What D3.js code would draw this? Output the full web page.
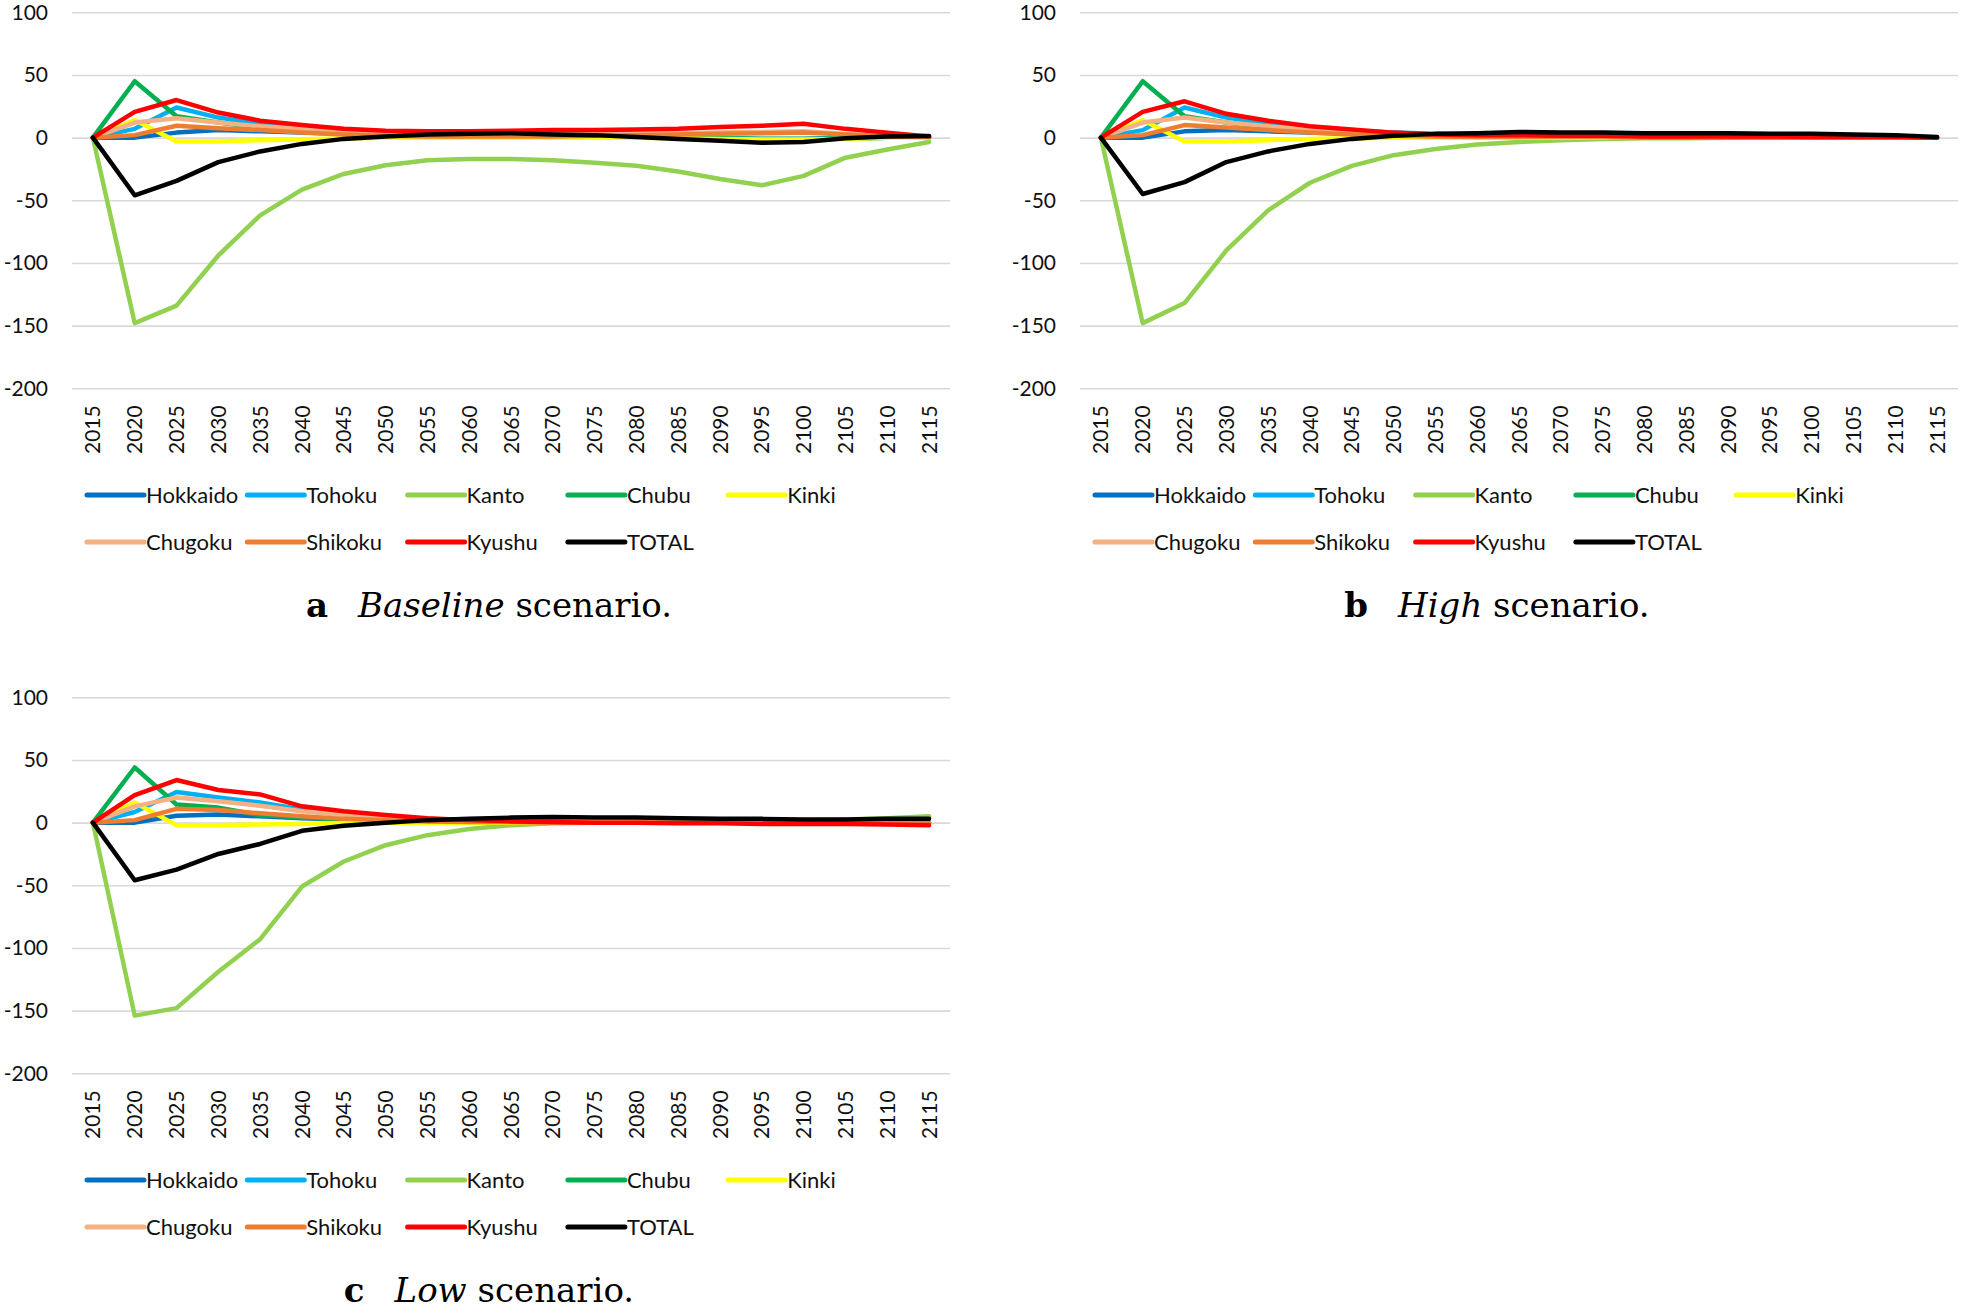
<!DOCTYPE html>
<html>
<head>
<meta charset="utf-8">
<script src="https://cdn.jsdelivr.net/npm/d3@7"></script>
<style>
  html, body { margin: 0; padding: 0; background: #fff; }
  svg { display: block; }
</style>
</head>
<body>
<svg id="chart" width="1961" height="1310"></svg>
<script>
// ---- data ----
const years = ["2015","2020","2025","2030","2035","2040","2045","2050","2055","2060","2065","2070","2075","2080","2085","2090","2095","2100","2105","2110","2115"];
const regions = ["Hokkaido","Tohoku","Kanto","Chubu","Kinki","Chugoku","Shikoku","Kyushu","TOTAL"];
const colors = ["#0070C0","#00B0F0","#92D050","#00B050","#FFFF00","#F4B183","#ED7D31","#FF0000","#000000"];
const yTicks = [-200,-150,-100,-50,0,50,100];

// Baseline scenario
const baseHokkaido = [0,0,4,6,5,4,3,2,1.5,1,1,0.5,0.5,0,0,-0.5,-1,-1,-0.5,0,0];
const baseTohoku   = [0,7,24,16,11,8.5,6,4,3,2.5,2,1.5,1,0.5,0,-0.5,-1,-1,-0.5,0,0];
const baseKanto    = [0,-148,-134,-94,-62,-41.5,-29,-22,-18,-17,-17,-18,-20,-22.5,-27,-33,-38,-30.5,-16,-9.5,-3.5];
const baseChubu    = [0,45,17,12,8,5,3,2,1,1,0.5,0.5,0,0,0,-0.5,-1,-1,-0.5,0,0];
const baseKinki    = [0,14,-3,-3,-2,-1.5,-0.5,0,0,0,0,0,0,0,-0.5,-1,-1.5,-1.5,-1,0,0];
const baseChugoku  = [0,12,15.5,12,9,7,5,4,3.5,3,3,3,3,3,3.5,4,4.5,5,3,1.5,0.5];
const baseShikoku  = [0,2,9.5,7.5,6,4,2.5,1.5,1,1,1,1,1.5,2,2.5,3,3.5,4,2.5,1,0.5];
const baseKyushu   = [0,20.5,30,20,13.5,10,7,5.5,5,5,5.5,6,6,6.5,7,8.5,9.5,11,7,4,1];
const baseTotal    = [0,-46,-34.5,-19.5,-11,-5,-1,1,2.5,3,3.5,2.5,2,0.5,-1,-2.5,-4,-3.5,-0.5,1,1.3];

// High scenario
const highHokkaido = [0,0,5,6,5,4,3,2,1.5,1,1,1,0.5,0.5,0.5,0.5,0,0,0,0,0];
const highTohoku   = [0,6,24,16,11,8,5.5,4,3,2,1.5,1,1,0.5,0.5,0.5,0,0,0,0,0];
const highKanto    = [0,-148,-132,-90,-58,-36,-22.5,-14,-9,-5.5,-3.5,-2,-1,-0.5,-0.5,0,0,0,0,0,0];
const highChubu    = [0,45,17,12,8,5,3,2,1,1,0.5,0.5,0.5,0,0,0,0,0,0,0,0];
const highKinki    = [0,14,-3,-3,-2,-1,-0.5,0,0,0,0,0,0,0,0,0,0,0,0,0,0];
const highChugoku  = [0,12,16,12,9,6.5,4.5,3,2,1.5,1,1,0.5,0.5,0.5,0.5,0,0,0,0,0];
const highShikoku  = [0,2,10,8,6,4,2.5,1.5,1,0.5,0.5,0.5,0.5,0,0,0,0,0,0,0,0];
const highKyushu   = [0,20.5,29,19,13.5,9,6.5,4,2.5,2,2,1.5,1.5,1,1,1,1,0.5,0.5,0.5,0];
const highTotal    = [0,-45,-35.5,-19.5,-11,-5,-1,1.5,3,3.5,4.5,4,4,3.5,3.5,3.5,3,3,2.5,2,0.5];

// Low scenario
const lowHokkaido = [0,0,5.5,6.5,5,3.5,2.5,1.5,1,0.5,0.5,0,0,0,0,0,0,0,0,0,0];
const lowTohoku   = [0,8.5,24.5,20,16,10.5,6.5,4.5,3,2,1.5,1,0.5,0.5,0,0,0,0,0,0,0];
const lowKanto    = [0,-154,-148,-119,-93,-51,-31,-18,-10,-5,-2,-0.5,0,0.5,0.5,1,1,1.5,2.5,3.5,5];
const lowChubu    = [0,44,14.5,12,6,4,2.5,1.5,1,0.5,0.5,0,0,0,0,0,0,0,0,0,0];
const lowKinki    = [0,16,-2,-2,-1.5,-1,-0.5,0,0,0,0,0,0,0,0,0,0,0,0,0,0];
const lowChugoku  = [0,13,20,17,13.5,9,6,4,3,2,1.5,1,0.5,0.5,0,0,0,0,0,0,0];
const lowShikoku  = [0,2,11,10,7.5,5,3,2,1,0.5,0.5,0,0,0,0,0,0,0,0,0,0];
const lowKyushu   = [0,22,34,26,22.5,13,9,6,3.5,2,1,0.5,0,0,-0.5,-0.5,-1,-1,-1,-1.5,-2];
const lowTotal    = [0,-46,-37.5,-25,-17,-6.5,-2.5,0,2,3,4,4.5,4,4,3.5,3,3,2.5,2.5,3,3];

const panels = [
  { letter: "a", word: "Baseline", ox: 0, oy: 0,
    series: [baseHokkaido, baseTohoku, baseKanto, baseChubu, baseKinki, baseChugoku, baseShikoku, baseKyushu, baseTotal] },
  { letter: "b", word: "High", ox: 1008, oy: 0,
    series: [highHokkaido, highTohoku, highKanto, highChubu, highKinki, highChugoku, highShikoku, highKyushu, highTotal] },
  { letter: "c", word: "Low", ox: 0, oy: 685,
    series: [lowHokkaido, lowTohoku, lowKanto, lowChubu, lowKinki, lowChugoku, lowShikoku, lowKyushu, lowTotal] }
];

// ---- drawing ----
const svg = d3.select("#chart");
const labelFont = "Lato, 'Open Sans', sans-serif";
const titleFont = "'DejaVu Serif', 'Liberation Serif', serif";

const x = d3.scaleBand().domain(years).range([72, 950]).padding(0);
const y = d3.scaleLinear().domain([-200, 100]).range([388.3, 12.3]);
const line = d3.line()
  .x((d, i) => x(years[i]) + x.bandwidth() / 2)
  .y(d => y(d));

panels.forEach(p => {
  const g = svg.append("g").attr("transform", `translate(${p.ox},${p.oy})`);

  // y axis with gridlines
  const ya = g.append("g").attr("transform", "translate(72,0)")
    .call(d3.axisLeft(y).tickValues(yTicks).tickSize(-878).tickPadding(24).tickFormat(d => String(d)));
  ya.select(".domain").remove();
  ya.selectAll(".tick line").attr("stroke", "#d9d9d9").attr("stroke-width", 1.6);
  ya.selectAll(".tick text").attr("font-family", labelFont).attr("font-size", 21).attr("fill", "#111");

  // x axis labels (rotated)
  const xa = g.append("g").attr("transform", "translate(0,388.3)")
    .call(d3.axisBottom(x).tickSize(0));
  xa.select(".domain").remove();
  xa.selectAll(".tick text")
    .attr("font-family", labelFont).attr("font-size", 21).attr("fill", "#111")
    .attr("transform", "rotate(-90)")
    .attr("x", -17).attr("y", 0).attr("dy", "0.36em")
    .style("text-anchor", "end");

  // series lines
  p.series.forEach((vals, k) => {
    g.append("path")
      .datum(vals)
      .attr("fill", "none")
      .attr("stroke", colors[k])
      .attr("stroke-width", 4.5)
      .attr("stroke-linejoin", "round")
      .attr("stroke-linecap", "round")
      .attr("d", line);
  });

  // legend
  const lg = g.append("g");
  regions.forEach((name, k) => {
    const col = k < 5 ? k : k - 5;
    const row = k < 5 ? 0 : 1;
    const lx = 87 + col * 160.3;
    const ly = row === 0 ? 495 : 542;
    lg.append("line")
      .attr("x1", lx).attr("x2", lx + 57).attr("y1", ly).attr("y2", ly)
      .attr("stroke", colors[k]).attr("stroke-width", 5).attr("stroke-linecap", "round");
    lg.append("text")
      .attr("x", lx + 59).attr("y", ly).attr("dy", "0.35em")
      .attr("font-family", labelFont).attr("font-size", 22).attr("fill", "#111")
      .text(name);
  });

  // caption
  const t = g.append("text")
    .attr("x", 489).attr("y", 617)
    .attr("text-anchor", "middle")
    .attr("font-family", titleFont).attr("font-size", 34).attr("fill", "#000");
  t.append("tspan").attr("font-weight", "bold").text(p.letter);
  t.append("tspan").attr("dx", 30).attr("font-style", "italic").text(p.word);
  t.append("tspan").text(" scenario.");
});
</script>
</body>
</html>
